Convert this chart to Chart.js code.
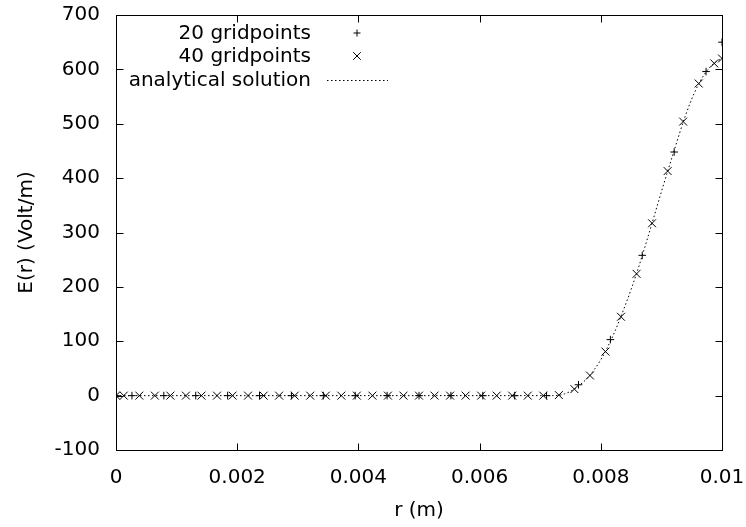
<!DOCTYPE html>
<html><head><meta charset="utf-8">
<script src="https://cdn.jsdelivr.net/npm/chart.js@4/dist/chart.umd.min.js"></script>
<style>html,body{margin:0;padding:0;background:#fff}#wrap{width:746px;height:527px;position:relative}</style>
</head><body><div id="wrap"><canvas id="c" width="746" height="527"></canvas></div>
<script>
// 20 gridpoints (r in m, E in V/m)
const r20 = [0, 0.000263, 0.000789, 0.001316, 0.001842, 0.002368, 0.002895, 0.003421, 0.003947, 0.004474,
  0.005000, 0.005526, 0.006053, 0.006579, 0.007105, 0.007632, 0.008158, 0.008684, 0.009211, 0.009737, 0.01];
const e20 = [0, 0, 0, 0, 0, 0, 0, 0, 0, 0,
  0, 0, 0, 0, 0, 20, 103, 258, 448, 596, 650];
// 40 gridpoints
const r40 = [0, 0.000128, 0.000385, 0.000641, 0.000897, 0.001154, 0.001410, 0.001667, 0.001923, 0.002179,
  0.002436, 0.002692, 0.002949, 0.003205, 0.003462, 0.003718, 0.003974, 0.004231, 0.004487, 0.004744,
  0.005000, 0.005256, 0.005513, 0.005769, 0.006026, 0.006282, 0.006538, 0.006795, 0.007051, 0.007308,
  0.007564, 0.007821, 0.008077, 0.008333, 0.008590, 0.008846, 0.009103, 0.009359, 0.009615, 0.009872, 0.01];
const e40 = [0, 0, 0, 0, 0, 0, 0, 0, 0, 0,
  0, 0, 0, 0, 0, 0, 0, 0, 0, 0,
  0, 0, 0, 0, 0, 0, 0, 0, 0, 1,
  12, 37, 81, 145, 224, 317, 413, 504, 574, 611, 620];
// analytical solution
const rAna = [0, 0.0070, 0.0072, 0.0073, 0.0074, 0.0075, 0.0076, 0.0078, 0.0080, 0.0082,
  0.0084, 0.0086, 0.0088, 0.0090, 0.0092, 0.0094, 0.0096, 0.0098, 0.0100];
const eAna = [0, 0, 0, 0.5, 3, 8, 15, 35, 66, 110,
  165, 228, 300, 375, 447, 516, 570, 604, 621];
// axis tick labels
const xTickLabels = ['0', '0.002', '0.004', '0.006', '0.008', '0.01'];
const yTickLabels = ['-100', '0', '100', '200', '300', '400', '500', '600', '700'];
const seriesNames = ['20 gridpoints', '40 gridpoints', 'analytical solution'];

const FONT = "'DejaVu Sans', sans-serif";
const pts = (xs, ys) => xs.map((x, i) => ({x: x, y: ys[i]}));

const frame = {
  id: 'frame',
  afterDatasetsDraw(chart) {
    const ctx = chart.ctx, a = chart.chartArea, xs = chart.scales.x, ys = chart.scales.y;
    const L = Math.round(a.left) + 0.5, R = Math.round(a.right) + 0.5, T = Math.round(a.top) + 0.5, B = Math.round(a.bottom) + 0.5;
    ctx.save();
    ctx.strokeStyle = '#000'; ctx.lineWidth = 1; ctx.setLineDash([]);
    ctx.beginPath();
    const tl = 7;
    xs.ticks.forEach(t => {
      const p = Math.round(xs.getPixelForValue(t.value)) + 0.5;
      ctx.moveTo(p, B); ctx.lineTo(p, B - tl);
      ctx.moveTo(p, T); ctx.lineTo(p, T + tl);
    });
    ys.ticks.forEach(t => {
      const p = Math.round(ys.getPixelForValue(t.value)) + 0.5;
      ctx.moveTo(L, p); ctx.lineTo(L + tl, p);
      ctx.moveTo(R, p); ctx.lineTo(R - tl, p);
    });
    ctx.stroke();
    ctx.strokeRect(L, T, R - L, B - T);
    // legend (gnuplot style, inside top-left)
    ctx.fillStyle = '#000';
    ctx.font = '20px ' + FONT;
    ctx.textAlign = 'right';
    ctx.textBaseline = 'middle';
    const rows = [33, 56, 80];
    const tx = 311, sx = 357;
    seriesNames.forEach((n, i) => ctx.fillText(n, tx, rows[i] + 1));
    ctx.beginPath();
    ctx.moveTo(sx - 3.5, rows[0]); ctx.lineTo(sx + 3.5, rows[0]);
    ctx.moveTo(sx, rows[0] - 3.5); ctx.lineTo(sx, rows[0] + 3.5);
    ctx.moveTo(sx - 3.8, rows[1] - 3.8); ctx.lineTo(sx + 3.8, rows[1] + 3.8);
    ctx.moveTo(sx - 3.8, rows[1] + 3.8); ctx.lineTo(sx + 3.8, rows[1] - 3.8);
    ctx.stroke();
    ctx.setLineDash([1.5, 2.5]);
    ctx.beginPath();
    ctx.moveTo(327, rows[2] + 0.5); ctx.lineTo(388, rows[2] + 0.5);
    ctx.stroke();
    ctx.restore();
  }
};

new Chart(document.getElementById('c'), {
  type: 'scatter',
  data: {
    datasets: [
      {label: seriesNames[0], data: pts(r20, e20), pointStyle: 'cross', pointRadius: 3.8,
       borderColor: '#000', backgroundColor: '#000', borderWidth: 1, showLine: false, order: 3},
      {label: seriesNames[1], data: pts(r40, e40), pointStyle: 'crossRot', pointRadius: 5.6,
       borderColor: '#000', backgroundColor: '#000', borderWidth: 1, showLine: false, order: 2},
      {label: seriesNames[2], data: pts(rAna, eAna), showLine: true, pointRadius: 0,
       borderColor: '#000', borderWidth: 1, borderDash: [1.5, 2.5], cubicInterpolationMode: 'monotone', order: 1}
    ]
  },
  options: {
    responsive: false, animation: false, devicePixelRatio: 1,
    layout: {padding: {top: 15, right: 24, left: 0, bottom: 0}},
    plugins: {legend: {display: false}, tooltip: {enabled: false}},
    scales: {
      x: {
        type: 'linear', min: 0, max: 0.01,
        ticks: {stepSize: 0.002, color: '#000', font: {family: FONT, size: 20}, padding: 16,
          maxRotation: 0, autoSkip: false, callback: (v, i) => xTickLabels[i]},
        grid: {display: false, drawTicks: false}, border: {display: false},
        title: {display: true, text: 'r (m)', color: '#000', font: {family: FONT, size: 20}, padding: {top: 4, bottom: 4}},
        afterFit: s => { s.height = 77; s.paddingLeft = 0; s.paddingRight = 0; }
      },
      y: {
        type: 'linear', min: -100, max: 700,
        ticks: {stepSize: 100, color: '#000', font: {family: FONT, size: 20}, padding: 16,
          autoSkip: false, callback: (v, i) => yTickLabels[i]},
        grid: {display: false, drawTicks: false}, border: {display: false},
        title: {display: true, text: 'E(r) (Volt/m)', color: '#000', font: {family: FONT, size: 20}, padding: {top: 15, bottom: 0}},
        afterFit: s => { s.width = 116; s.paddingTop = 0; s.paddingBottom = 0; }
      }
    }
  },
  plugins: [frame]
});
</script>
</body></html>
